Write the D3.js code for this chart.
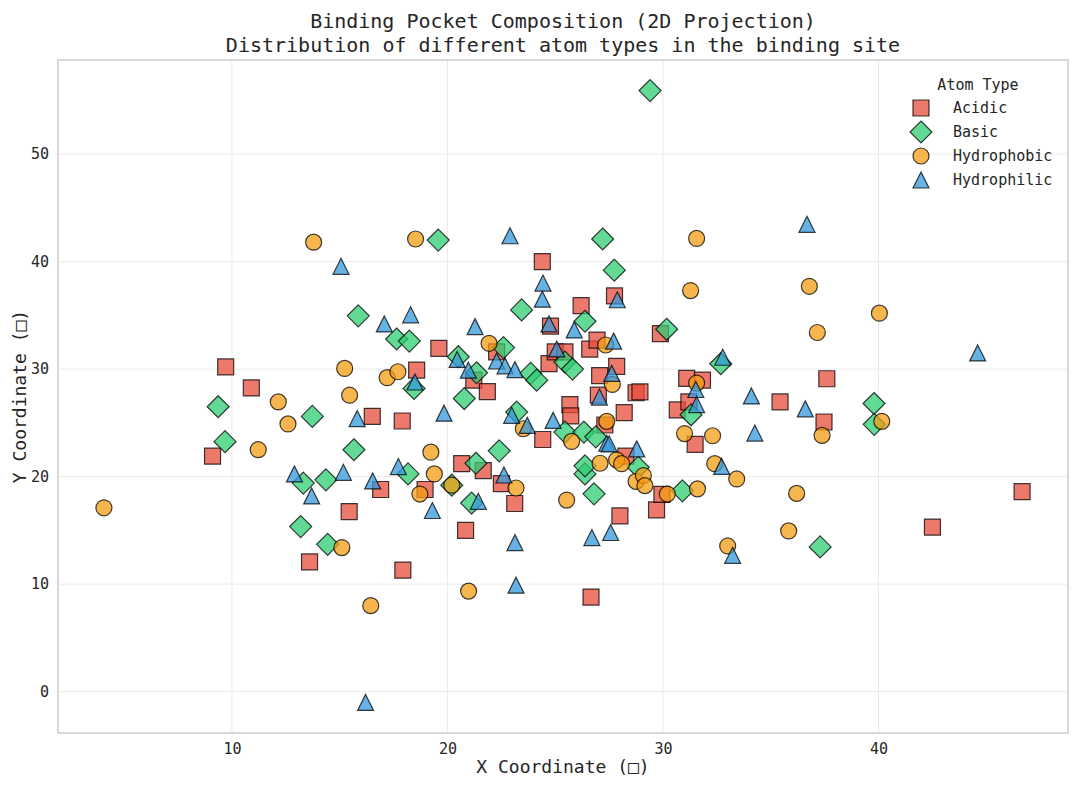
<!DOCTYPE html>
<html>
<head>
<meta charset="utf-8">
<script src="https://cdn.jsdelivr.net/npm/d3@7"></script>
<style>
  body { margin: 0; background: #fff; }
  text { font-family: "DejaVu Sans Mono", "Liberation Mono", monospace; fill: #262626; }
</style>
</head>
<body>
<div id="chart"></div>
<script>
// Atom positions, one array per atom type.
var acidic = [
  [9.1, 21.9], [9.71, 30.2], [10.9, 28.25], [13.6, 12.07], [15.44, 16.75], [16.51, 25.6],
  [16.9, 18.8], [17.9, 25.17], [17.93, 11.3], [18.57, 29.9], [18.96, 18.8], [19.6, 31.93],
  [20.66, 21.2], [20.84, 15.0], [21.22, 28.97], [21.66, 20.56], [21.85, 27.9], [22.28, 31.6],
  [22.5, 19.35], [23.12, 17.5], [24.4, 40.0], [24.42, 23.45], [24.71, 30.5], [24.78, 34.0],
  [25.0, 31.6], [25.45, 31.6], [25.68, 26.7], [25.72, 25.65], [26.2, 35.9], [26.6, 31.85],
  [26.66, 8.8], [26.94, 32.7], [27.06, 29.4], [27.0, 27.57], [27.3, 24.8], [27.75, 36.8],
  [27.85, 30.25], [28.0, 16.35], [28.2, 25.95], [28.28, 21.9], [28.75, 27.8], [28.93, 27.88],
  [29.7, 16.9], [29.88, 33.3], [29.95, 18.35], [30.66, 26.2], [31.1, 29.13], [31.2, 26.95],
  [31.49, 23.0], [31.83, 28.97], [35.43, 26.95], [37.47, 25.08], [37.6, 29.1], [42.5, 15.3],
  [46.66, 18.6]
];
var basic = [
  [9.36, 26.5], [9.68, 23.25], [13.19, 15.35], [13.31, 19.4], [13.73, 25.6], [14.36, 19.7],
  [14.44, 13.7], [15.66, 22.5], [15.86, 34.95], [17.64, 32.8], [18.17, 20.25], [18.23, 32.6],
  [18.45, 28.2], [19.57, 42.0], [20.2, 19.2], [20.5, 31.15], [20.78, 27.26], [21.12, 17.54],
  [21.32, 21.24], [21.35, 29.66], [22.4, 22.4], [22.6, 32.0], [23.21, 26.0], [23.44, 35.5],
  [23.86, 29.6], [24.14, 28.97], [25.45, 24.14], [25.45, 30.65], [25.8, 30.0], [26.33, 24.14],
  [26.38, 20.25], [26.38, 21.0], [26.38, 34.45], [26.8, 18.4], [26.88, 23.7], [27.2, 42.1],
  [27.74, 39.2], [28.85, 20.87], [29.4, 55.9], [30.17, 33.7], [30.9, 18.68], [31.3, 25.75],
  [32.68, 30.5], [37.29, 13.46], [39.79, 26.8], [39.8, 24.86]
];
var hydrophobic = [
  [4.06, 17.1], [11.22, 22.5], [12.15, 26.95], [12.6, 24.9], [13.79, 41.8], [15.1, 13.4],
  [15.23, 30.06], [15.46, 27.57], [16.44, 8.0], [17.2, 29.2], [17.7, 29.75], [18.52, 42.1],
  [18.72, 18.38], [19.23, 22.27], [19.39, 20.25], [20.2, 19.2], [20.98, 9.35], [21.93, 32.4],
  [23.18, 18.94], [23.52, 24.45], [25.53, 17.82], [25.76, 23.27], [27.08, 21.24], [27.34, 32.24],
  [27.39, 25.14], [27.65, 28.57], [27.85, 21.56], [28.08, 21.2], [28.75, 19.56], [29.09, 20.1],
  [29.16, 19.16], [30.2, 18.38], [31.0, 24.0], [31.28, 37.3], [31.56, 42.15], [31.56, 28.7],
  [31.6, 18.86], [32.3, 23.8], [32.4, 21.2], [33.0, 13.55], [33.42, 19.78], [35.83, 14.95],
  [36.2, 18.44], [36.79, 37.7], [37.16, 33.4], [37.38, 23.83], [40.04, 35.2], [40.15, 25.14]
];
var hydrophilic = [
  [12.9, 20.25], [13.7, 18.2], [15.06, 39.56], [15.17, 20.4], [15.81, 25.4], [16.2, -1.0],
  [16.53, 19.6], [17.07, 34.2], [17.72, 20.93], [18.29, 35.05], [18.49, 28.8], [19.3, 16.85],
  [19.84, 25.9], [20.45, 30.9], [20.97, 29.9], [21.28, 33.95], [21.43, 17.7], [22.28, 30.75],
  [22.62, 20.15], [22.67, 30.3], [22.9, 42.4], [22.98, 25.7], [23.13, 29.95], [23.13, 13.86],
  [23.18, 9.9], [23.7, 24.77], [24.4, 36.5], [24.43, 38.0], [24.71, 34.2], [24.9, 25.23],
  [25.07, 31.87], [25.88, 33.64], [26.7, 14.33], [27.05, 27.4], [27.39, 23.1], [27.5, 23.05],
  [27.57, 14.8], [27.62, 29.6], [27.71, 32.6], [27.88, 36.45], [28.78, 22.58], [31.52, 28.1],
  [31.56, 26.7], [32.72, 20.95], [32.77, 31.1], [33.23, 12.68], [34.1, 27.5], [34.26, 24.05],
  [36.6, 26.3], [36.68, 43.46], [44.6, 31.5]
];

var typeNames = ['Acidic', 'Basic', 'Hydrophobic', 'Hydrophilic'];
var typeColors = ['#e74c3c', '#2ecc71', '#f39c12', '#3498db'];
var typeShapes = ['square', 'diamond', 'circle', 'triangle'];
var xTicks = [10, 20, 30, 40];
var yTicks = [0, 10, 20, 30, 40, 50];

var WIDTH = 1080, HEIGHT = 786;
var margin = {left: 58, right: 12, top: 60, bottom: 53};
var plotW = WIDTH - margin.left - margin.right;
var plotH = HEIGHT - margin.top - margin.bottom;

// Marker path around (0,0), sizes in px like matplotlib s=~150.
function markerPath(shape) {
  if (shape == 'square') return 'M-8,-8H8V8H-8Z';
  if (shape == 'diamond') return 'M0,-11L11,0L0,11L-11,0Z';
  if (shape == 'triangle') return 'M0,-8L8,8L-8,8Z';
  return 'M8,0A8,8 0 1,1 -8,0A8,8 0 1,1 8,0Z';
}

var groups = [acidic, basic, hydrophobic, hydrophilic];
var all = d3.merge(groups);

// Same 5% padding that matplotlib uses around the data.
var xExt = d3.extent(all, function(d) { return d[0]; });
var yExt = d3.extent(all, function(d) { return d[1]; });
var xPad = (xExt[1] - xExt[0]) * 0.05, yPad = (yExt[1] - yExt[0]) * 0.05;

var x = d3.scaleLinear().domain([xExt[0] - xPad, xExt[1] + xPad]).range([0, plotW]);
var y = d3.scaleLinear().domain([yExt[0] - yPad, yExt[1] + yPad]).range([plotH, 0]);

var svg = d3.select('#chart').append('svg')
    .attr('width', WIDTH)
    .attr('height', HEIGHT);

var g = svg.append('g')
    .attr('transform', 'translate(' + margin.left + ',' + margin.top + ')');

// Grid lines.
g.append('g').selectAll('line.vgrid').data(xTicks).enter().append('line')
    .attr('x1', function(d) { return x(d); })
    .attr('x2', function(d) { return x(d); })
    .attr('y1', 0).attr('y2', plotH)
    .style('stroke', '#ebebeb').style('stroke-width', 1);
g.append('g').selectAll('line.hgrid').data(yTicks).enter().append('line')
    .attr('y1', function(d) { return y(d); })
    .attr('y2', function(d) { return y(d); })
    .attr('x1', 0).attr('x2', plotW)
    .style('stroke', '#ebebeb').style('stroke-width', 1);

// Axes (no tick marks, just labels).
var xAxis = g.append('g')
    .attr('transform', 'translate(0,' + plotH + ')')
    .call(d3.axisBottom(x).tickValues(xTicks).tickSize(0).tickPadding(10));
var yAxis = g.append('g')
    .call(d3.axisLeft(y).tickValues(yTicks).tickSize(0).tickPadding(9));
[xAxis, yAxis].forEach(function(a) {
  a.select('.domain').remove();
  a.selectAll('text')
      .style('font-family', '"DejaVu Sans Mono", monospace')
      .style('font-size', '15px')
      .style('fill', '#262626');
});

// Points, one layer per type.
groups.forEach(function(pts, k) {
  g.append('g').selectAll('path').data(pts).enter().append('path')
      .attr('d', markerPath(typeShapes[k]))
      .attr('transform', function(d) { return 'translate(' + x(d[0]) + ',' + y(d[1]) + ')'; })
      .style('fill', typeColors[k])
      .style('fill-opacity', 0.75)
      .style('stroke', '#000')
      .style('stroke-opacity', 0.75)
      .style('stroke-width', 1.2);
});

// Frame.
g.append('rect')
    .attr('width', plotW).attr('height', plotH)
    .style('fill', 'none')
    .style('stroke', '#cccccc')
    .style('stroke-width', 1.5);

// Titles and axis labels.
svg.append('text')
    .attr('x', margin.left + plotW / 2).attr('y', 28)
    .attr('text-anchor', 'middle')
    .style('font-size', '20px')
    .text('Binding Pocket Composition (2D Projection)');
svg.append('text')
    .attr('x', margin.left + plotW / 2).attr('y', 52)
    .attr('text-anchor', 'middle')
    .style('font-size', '20px')
    .text('Distribution of different atom types in the binding site');
svg.append('text')
    .attr('x', margin.left + plotW / 2).attr('y', 773)
    .attr('text-anchor', 'middle')
    .style('font-size', '18px')
    .text('X Coordinate (\u25A1)');
svg.append('text')
    .attr('transform', 'translate(26,' + (margin.top + plotH / 2) + ') rotate(-90)')
    .attr('text-anchor', 'middle')
    .style('font-size', '18px')
    .text('Y Coordinate (\u25A1)');

// Legend.
var legend = svg.append('g').attr('transform', 'translate(921,0)');
legend.append('text')
    .attr('x', 57).attr('y', 90)
    .attr('text-anchor', 'middle')
    .style('font-size', '15px')
    .text('Atom Type');
var items = legend.selectAll('g.item').data(typeNames).enter().append('g')
    .attr('transform', function(d, i) { return 'translate(0,' + (108 + i * 24) + ')'; });
items.append('path')
    .attr('d', function(d, i) { return markerPath(typeShapes[i]); })
    .style('fill', function(d, i) { return typeColors[i]; })
    .style('fill-opacity', 0.75)
    .style('stroke', '#000')
    .style('stroke-opacity', 0.75)
    .style('stroke-width', 1.2);
items.append('text')
    .attr('x', 32).attr('y', 5)
    .style('font-size', '15px')
    .text(function(d) { return d; });
</script>
</body>
</html>
